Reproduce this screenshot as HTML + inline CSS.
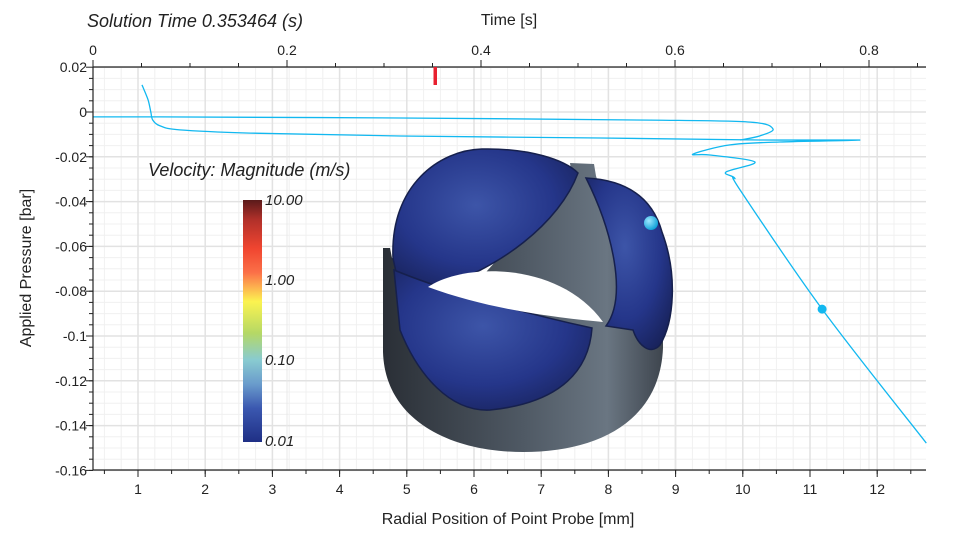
<!DOCTYPE html>
<html><head><meta charset="utf-8"><style>
body{margin:0;background:#fff;}
svg{display:block;font-family:"Liberation Sans","DejaVu Sans",sans-serif;}
</style></head><body>
<svg id="chart" width="960" height="540" viewBox="0 0 960 540">
<defs>
<linearGradient id="cb" x1="0" y1="0" x2="0" y2="1">
<stop offset="0" stop-color="#5a1a1a"/><stop offset="0.08" stop-color="#b0302a"/><stop offset="0.2" stop-color="#f04530"/>
<stop offset="0.3" stop-color="#fb7048"/><stop offset="0.36" stop-color="#fdb14f"/><stop offset="0.42" stop-color="#fbf350"/>
<stop offset="0.55" stop-color="#b5d865"/><stop offset="0.66" stop-color="#89cbd0"/><stop offset="0.76" stop-color="#6a9ccc"/>
<stop offset="0.86" stop-color="#3b58b0"/><stop offset="1" stop-color="#1f2f85"/></linearGradient>
<linearGradient id="ring" x1="0" y1="0" x2="1" y2="0"><stop offset="0" stop-color="#2a2f36"/><stop offset="0.5" stop-color="#4f5964"/><stop offset="0.8" stop-color="#6a7682"/><stop offset="1" stop-color="#3e454e"/></linearGradient>
<radialGradient id="leaf" cx="0.45" cy="0.4" r="0.7"><stop offset="0" stop-color="#3d55a8"/><stop offset="0.6" stop-color="#25368a"/><stop offset="1" stop-color="#18225a"/></radialGradient>
<radialGradient id="ball" cx="0.35" cy="0.35" r="0.7"><stop offset="0" stop-color="#9fe8ff"/><stop offset="1" stop-color="#0a9fd6"/></radialGradient>
</defs>
<g id="grid"></g>
<g id="valve">
<path fill="url(#ring)" d="M383,248 L390,248 L392,258 L470,290 L572,176 L570,163 L594,164 L596,176 L640,310 L663,330 L663,348 C660,420 600,452 523,452 C450,452 385,420 383,352 Z"/>
<path fill="url(#leaf)" stroke="#16204d" stroke-width="1.5" d="M393,258 C390,185 440,150 482,149 C530,148 565,160 578,173 C560,222 500,270 430,290 L396,272 Z"/>
<path fill="url(#leaf)" stroke="#16204d" stroke-width="1.5" d="M586,178 C625,180 652,196 662,232 C678,275 674,322 660,345 C650,356 638,345 633,330 L606,326 C628,296 612,230 586,178 Z"/>
<path fill="url(#leaf)" stroke="#16204d" stroke-width="1.5" d="M394,270 C430,285 500,308 592,328 C588,385 540,405 490,410 C450,412 418,375 400,330 Z"/>
<path fill="#fff" d="M428,287 C465,262 560,262 603,322 C560,318 490,310 428,287 Z"/>
<circle cx="651" cy="223" r="7" fill="url(#ball)"/>
</g>
<g id="series"></g>
<g id="axes"></g>
<text x="87" y="27" font-size="18" font-style="italic" fill="#222">Solution Time 0.353464 (s)</text>
<text x="148" y="176" font-size="18" font-style="italic" fill="#222">Velocity: Magnitude (m/s)</text>
<rect x="243" y="200" width="19" height="242" fill="url(#cb)"/>
<g font-size="15" font-style="italic" fill="#222">
<text x="265" y="205">10.00</text>
<text x="265" y="285">1.00</text>
<text x="265" y="365">0.10</text>
<text x="265" y="446">0.01</text>
</g>
<text x="508" y="524" font-size="16" text-anchor="middle" fill="#222">Radial Position of Point Probe [mm]</text>
<text x="509" y="25" font-size="16" text-anchor="middle" fill="#222">Time [s]</text>
<text transform="translate(31,268) rotate(-90)" font-size="16" text-anchor="middle" fill="#222">Applied Pressure [bar]</text>
<rect x="433.5" y="67" width="3.5" height="18" fill="#e8202f"/>
</svg>
<script>
const xTicks=[1,2,3,4,5,6,7,8,9,10,11,12];
const yTicks=[0.02,0,-0.02,-0.04,-0.06,-0.08,-0.1,-0.12,-0.14,-0.16];
const yTickLabels=["0.02","0","-0.02","-0.04","-0.06","-0.08","-0.1","-0.12","-0.14","-0.16"];
const tTicks=[0,0.2,0.4,0.6,0.8];
const tTickLabels=["0","0.2","0.4","0.6","0.8"];
const mainR=[1.06,1.15,1.19,1.22,1.33,1.62,2.67,4.90,7.88,10.25,11.74,10.55,9.81,9.26,9.51,10.18,9.75,9.88,9.96,11.18,12.73];
const mainP=[0.0121,0.0054,0,-0.0036,-0.0062,-0.0080,-0.0094,-0.0107,-0.0116,-0.0125,-0.0125,-0.0134,-0.0147,-0.0188,-0.0192,-0.0223,-0.0268,-0.0295,-0.0348,-0.0880,-0.1478];
const initR=[0.33,1.33,4.90,8.62,10.11,10.45,10.25,9.96];
const initP=[-0.0022,-0.0022,-0.0027,-0.0036,-0.0045,-0.0076,-0.0107,-0.0125];
const currentR=[11.18];
const currentP=[-0.0880];
const L=93,R=926,T=67,B=470;
const xs=v=>70.8+v*67.2;
const ys=v=>112-v*2240;
const ts=v=>93+v*970;
const NS="http://www.w3.org/2000/svg";
function mk(tag,attrs,parent){const e=document.createElementNS(NS,tag);for(const k in attrs)e.setAttribute(k,attrs[k]);parent.appendChild(e);return e;}
const grid=document.getElementById('grid'),axes=document.getElementById('axes'),ser=document.getElementById('series');
for(let v=0.5;v<=12.75;v+=0.25){const x=xs(v);if(x<L||x>R)continue;const l=mk('line',{x1:x,x2:x,y1:T,y2:B,stroke:'#f0f0f0','stroke-width':1},grid);

}
for(let v=-0.16;v<=0.02;v+=0.005){const y=ys(v);const l=mk('line',{x1:L,x2:R,y1:y,y2:y,stroke:'#f0f0f0','stroke-width':1},grid);

}
xTicks.forEach(v=>{const x=xs(v);const l=mk('line',{x1:x,x2:x,y1:T,y2:B,stroke:'#e2e2e2','stroke-width':1.5},grid);

});
yTicks.forEach(v=>{const y=ys(v);const l=mk('line',{x1:L,x2:R,y1:y,y2:y,stroke:'#e2e2e2','stroke-width':1.5},grid);

});
tTicks.forEach(v=>{const x=ts(v);const l=mk('line',{x1:x,x2:x,y1:T,y2:B,stroke:'#e8e8e8','stroke-width':1},grid);

});
let a=mk('line',{x1:L,x2:L,y1:T,y2:B+0.5,stroke:'#222','stroke-width':1.2},axes);


a=mk('line',{x1:L,x2:R,y1:B,y2:B,stroke:'#222','stroke-width':1.2},axes);


a=mk('line',{x1:L,x2:R,y1:T,y2:T,stroke:'#222','stroke-width':1.2},axes);


for(let v=0.5;v<=12.75;v+=0.5){const x=xs(v);if(x<L||x>R)continue;const l=mk('line',{x1:x,x2:x,y1:B,y2:B+4,stroke:'#222'},axes);

}
xTicks.forEach(v=>{const x=xs(v);const l=mk('line',{x1:x,x2:x,y1:B,y2:B+7,stroke:'#222'},axes);


const t=mk('text',{x:x,y:B+24,'font-size':14,'text-anchor':'middle',fill:'#222'},axes);t.textContent=String(v);

});
for(let v=-0.16;v<=0.02;v+=0.005){const y=ys(v);const l=mk('line',{x1:L-4,x2:L,y1:y,y2:y,stroke:'#222'},axes);

}
yTicks.forEach((v,i)=>{const y=ys(v);const l=mk('line',{x1:L-7,x2:L,y1:y,y2:y,stroke:'#222'},axes);


const t=mk('text',{x:L-6,y:y+5,'font-size':14,'text-anchor':'end',fill:'#222'},axes);t.textContent=yTickLabels[i];

});
for(let v=0.05;v<=0.86;v+=0.05){const x=ts(v);const l=mk('line',{x1:x,x2:x,y1:T-4,y2:T,stroke:'#222'},axes);

}
tTicks.forEach((v,i)=>{const x=ts(v);const l=mk('line',{x1:x,x2:x,y1:T-7,y2:T,stroke:'#222'},axes);


const t=mk('text',{x:x,y:T-12,'font-size':14,'text-anchor':'middle',fill:'#222'},axes);t.textContent=tTickLabels[i];

});
function line(rr,pp,name){
const P=rr.map((r,i)=>[xs(r),ys(pp[i])]);
let d='M'+P[0][0].toFixed(1)+','+P[0][1].toFixed(1);
for(let i=0;i<P.length-1;i++){const p0=P[i-1]||P[i],p1=P[i],p2=P[i+1],p3=P[i+2]||P[i+1];
const c1=[p1[0]+(p2[0]-p0[0])/6,p1[1]+(p2[1]-p0[1])/6],c2=[p2[0]-(p3[0]-p1[0])/6,p2[1]-(p3[1]-p1[1])/6];
d+=' C'+c1.map(v=>v.toFixed(1)).join(',')+' '+c2.map(v=>v.toFixed(1)).join(',')+' '+p2.map(v=>v.toFixed(1)).join(',');}
const p=mk('path',{d:d,fill:'none',stroke:'#12b8f0','stroke-width':1.3,'stroke-linejoin':'round'},ser);

}
line(initR,initP,'initial-trajectory-line');
line(mainR,mainP,'probe-trajectory-line');
currentR.forEach((r,i)=>{const c=mk('circle',{cx:xs(r),cy:ys(currentP[i]),r:4.5,fill:'#12b8f0'},ser);

});
</script>
</body></html>
